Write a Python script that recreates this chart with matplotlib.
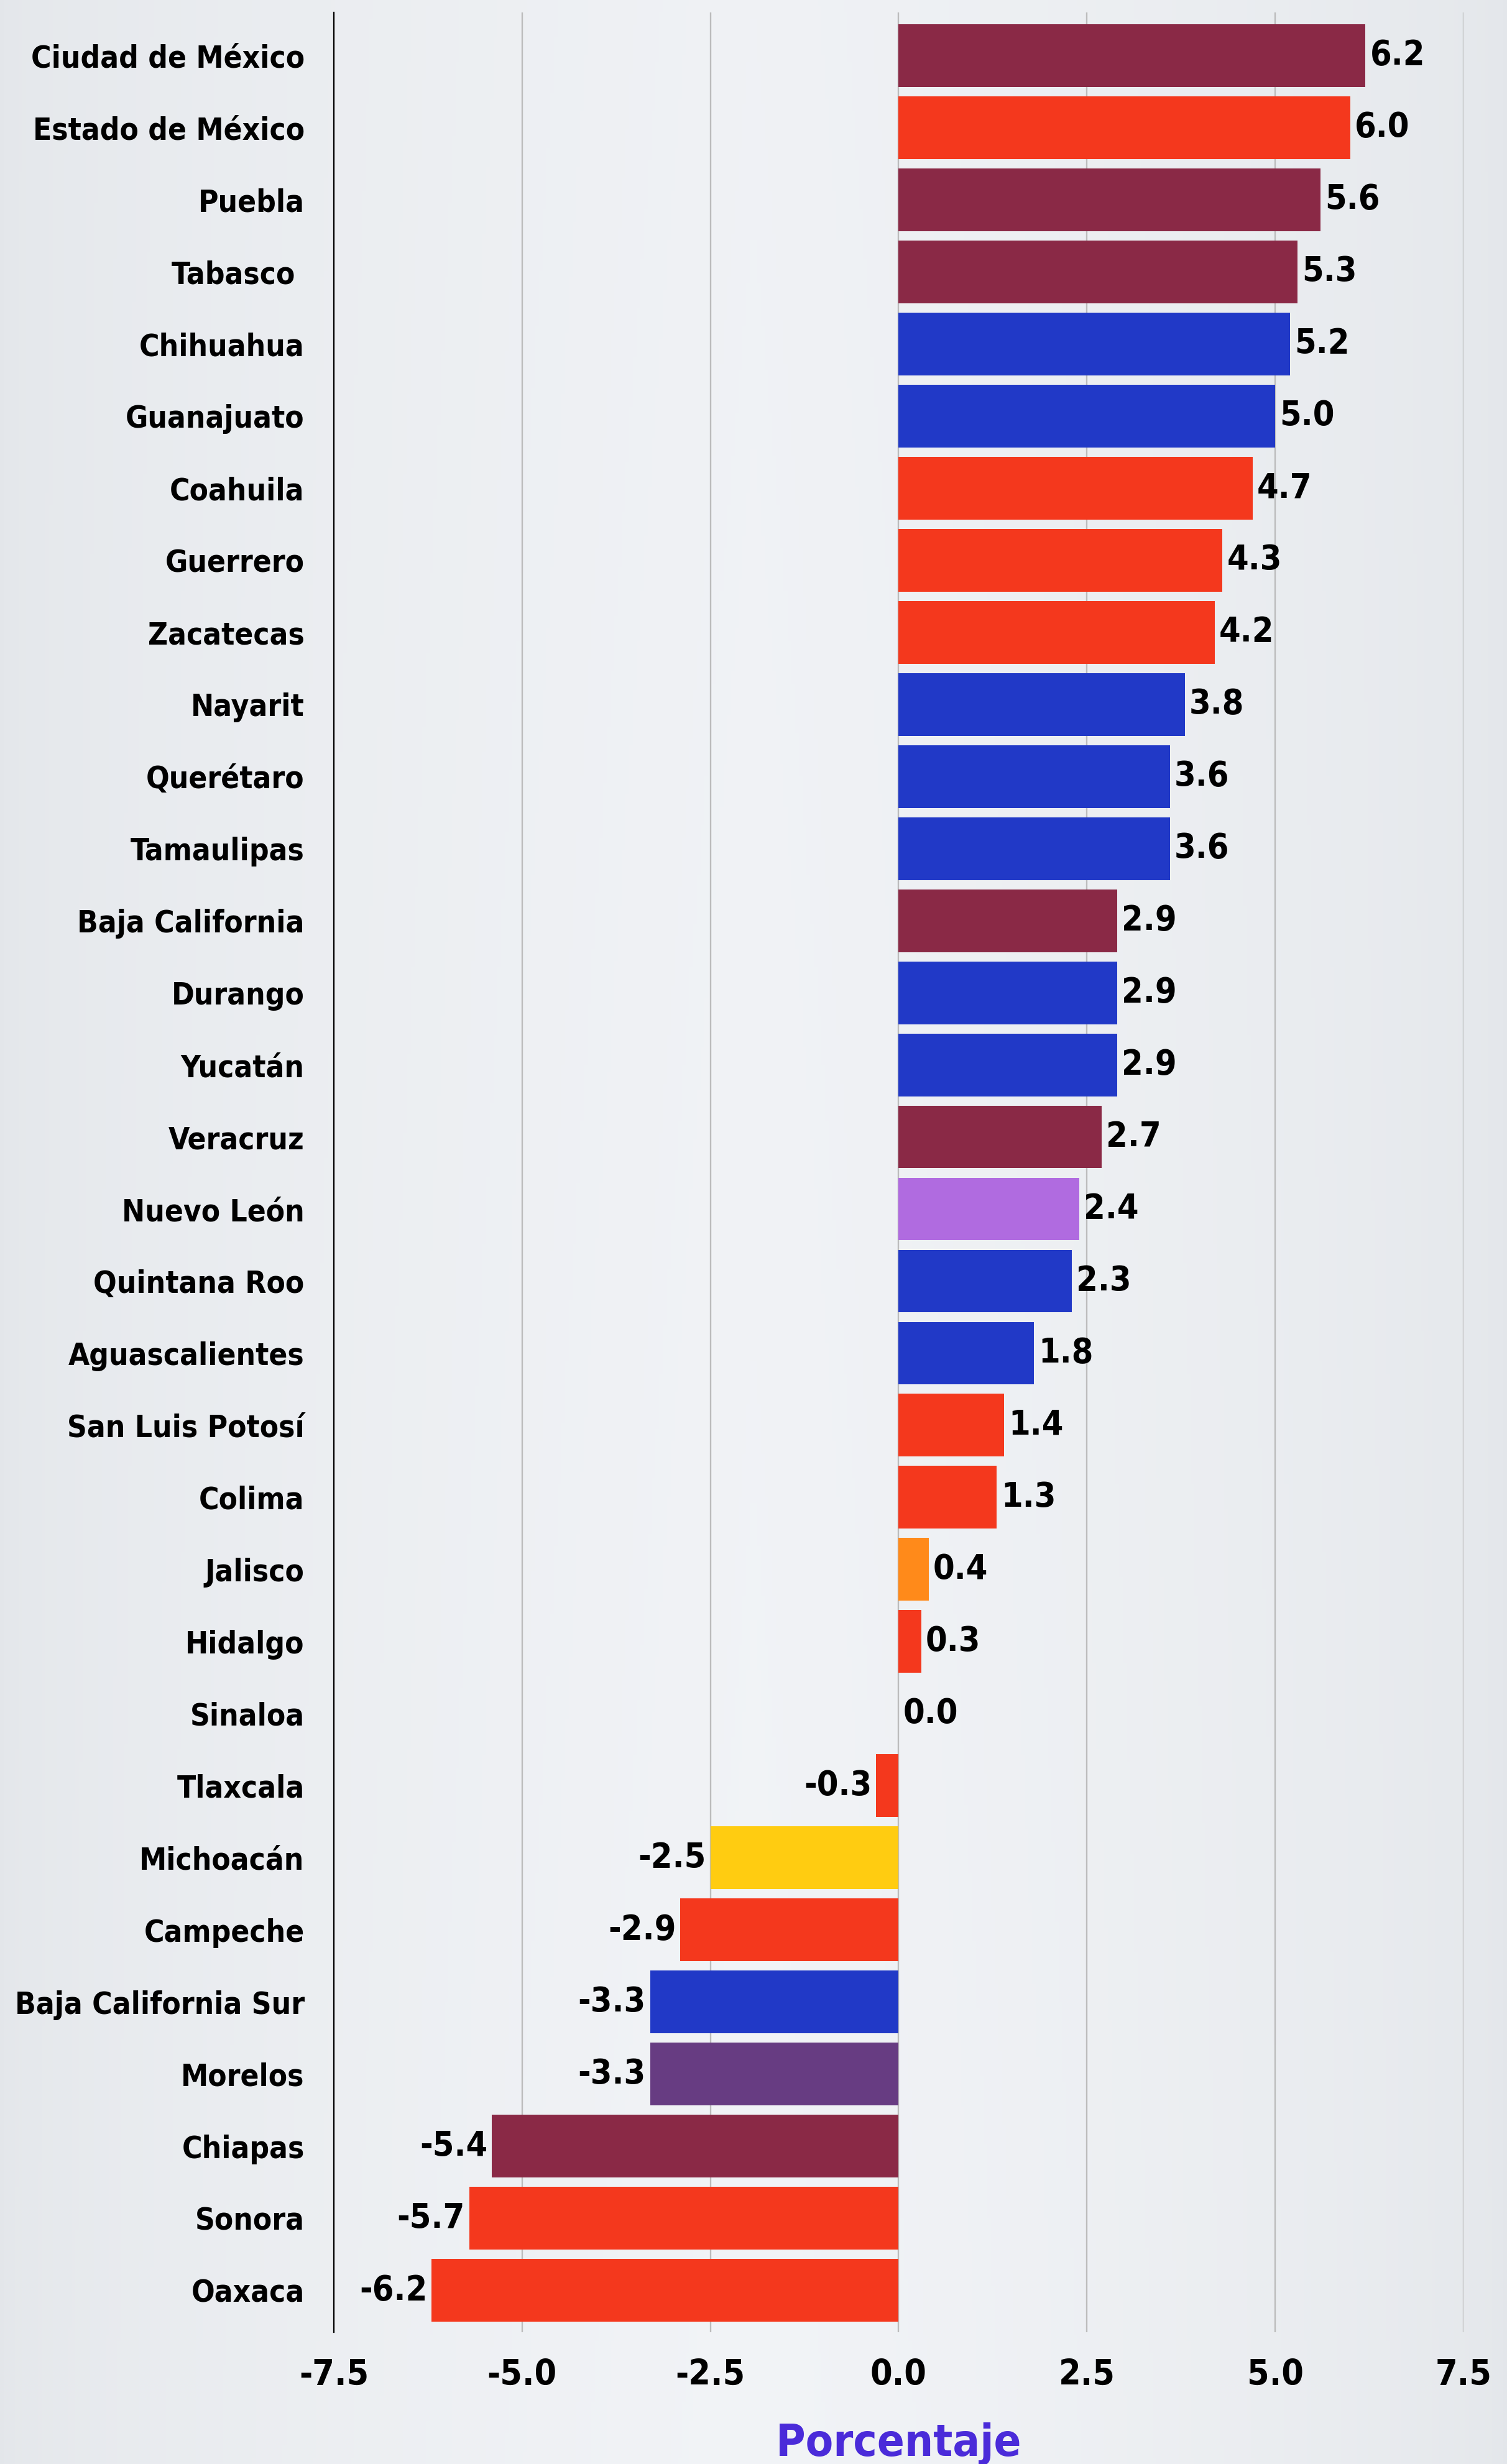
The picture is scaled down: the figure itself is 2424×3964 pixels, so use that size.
import numpy as np
import matplotlib
matplotlib.use("Agg")
import matplotlib.pyplot as plt
from matplotlib import font_manager

estados = ["Ciudad de México", "Estado de México", "Puebla", "Tabasco ", "Chihuahua",
           "Guanajuato", "Coahuila", "Guerrero", "Zacatecas", "Nayarit", "Querétaro",
           "Tamaulipas", "Baja California", "Durango", "Yucatán", "Veracruz",
           "Nuevo León", "Quintana Roo", "Aguascalientes", "San Luis Potosí", "Colima",
           "Jalisco", "Hidalgo", "Sinaloa", "Tlaxcala", "Michoacán", "Campeche",
           "Baja California Sur", "Morelos", "Chiapas", "Sonora", "Oaxaca"]
valores = [6.2, 6.0, 5.6, 5.3, 5.2, 5.0, 4.7, 4.3, 4.2, 3.8, 3.6, 3.6, 2.9, 2.9, 2.9,
           2.7, 2.4, 2.3, 1.8, 1.4, 1.3, 0.4, 0.3, 0.0, -0.3, -2.5, -2.9, -3.3, -3.3,
           -5.4, -5.7, -6.2]

GUINDA = "#8a2946"
ROJO = "#f4381d"
AZUL = "#2139c7"
colores = [GUINDA, ROJO, GUINDA, GUINDA, AZUL, AZUL, ROJO, ROJO, ROJO, AZUL, AZUL,
           AZUL, GUINDA, AZUL, AZUL, GUINDA, "#b06be0", AZUL, AZUL, ROJO, ROJO,
           "#ff8a1a", ROJO, ROJO, ROJO, "#ffcc11", ROJO, AZUL, "#673c82", GUINDA,
           ROJO, ROJO]

xticks = [-7.5, -5.0, -2.5, 0.0, 2.5, 5.0, 7.5]

# condensed bold font if the system has it
path = None
for f in font_manager.findSystemFonts():
    if f.endswith("DejaVuSansCondensed-Bold.ttf"):
        path = f
        break


def fuente(size):
    if path:
        return font_manager.FontProperties(fname=path, size=size)
    return font_manager.FontProperties(family="DejaVu Sans", weight="bold", size=size * 0.92)


fig = plt.figure(figsize=(24.24, 39.64), dpi=100)

# background gradient
bg = fig.add_axes([0, 0, 1, 1], zorder=-10)
xs = np.linspace(0, 1, 400)
ys = np.linspace(0, 1, 400)
hx = 1 - np.abs(xs - 0.5) * 2
hy = 0.85 + 0.15 * ys
shade = np.outer(hy, hx ** 0.6)
c0 = np.array([0.893, 0.905, 0.920])
c1 = np.array([0.948, 0.956, 0.968])
img = c0 + (c1 - c0) * shade[..., None]
bg.imshow(img, aspect="auto", extent=[0, 1, 0, 1])
bg.axis("off")

ax = fig.add_axes([0.2215, 0.0535, 0.7496, 0.9415])
ax.set_facecolor("none")

pos = np.arange(len(estados))
bars = ax.barh(pos, valores, height=0.87, color=colores, zorder=3)
ax.bar_label(bars, labels=[f"{v:.1f}" for v in valores], padding=5,
             fontproperties=fuente(40), color="black", zorder=4)

ax.set_xlim(-7.5, 7.5)
ax.set_ylim(len(estados) - 1 + 0.58, -0.6)
ax.set_xticks(xticks)
ax.set_xticklabels([f"{t:.1f}" for t in xticks])
ax.set_yticks(pos)
ax.set_yticklabels(estados)
for lab in ax.get_yticklabels():
    lab.set_fontproperties(fuente(35.5))
for lab in ax.get_xticklabels():
    lab.set_fontproperties(fuente(41))

ax.tick_params(axis="y", length=0, pad=34)
ax.tick_params(axis="x", length=0, pad=30)

ax.grid(axis="x", color="#bcbcbc", linewidth=1.7)
ax.set_axisbelow(True)
for s in ["top", "right", "bottom"]:
    ax.spines[s].set_visible(False)
ax.spines["left"].set_color("black")
ax.spines["left"].set_linewidth(1.6)
ax.spines["left"].set_zorder(5)

ax.set_xlabel("Porcentaje", fontproperties=fuente(52), color="#4a2bd9", labelpad=35)

fig.savefig("out.png", dpi=100)
